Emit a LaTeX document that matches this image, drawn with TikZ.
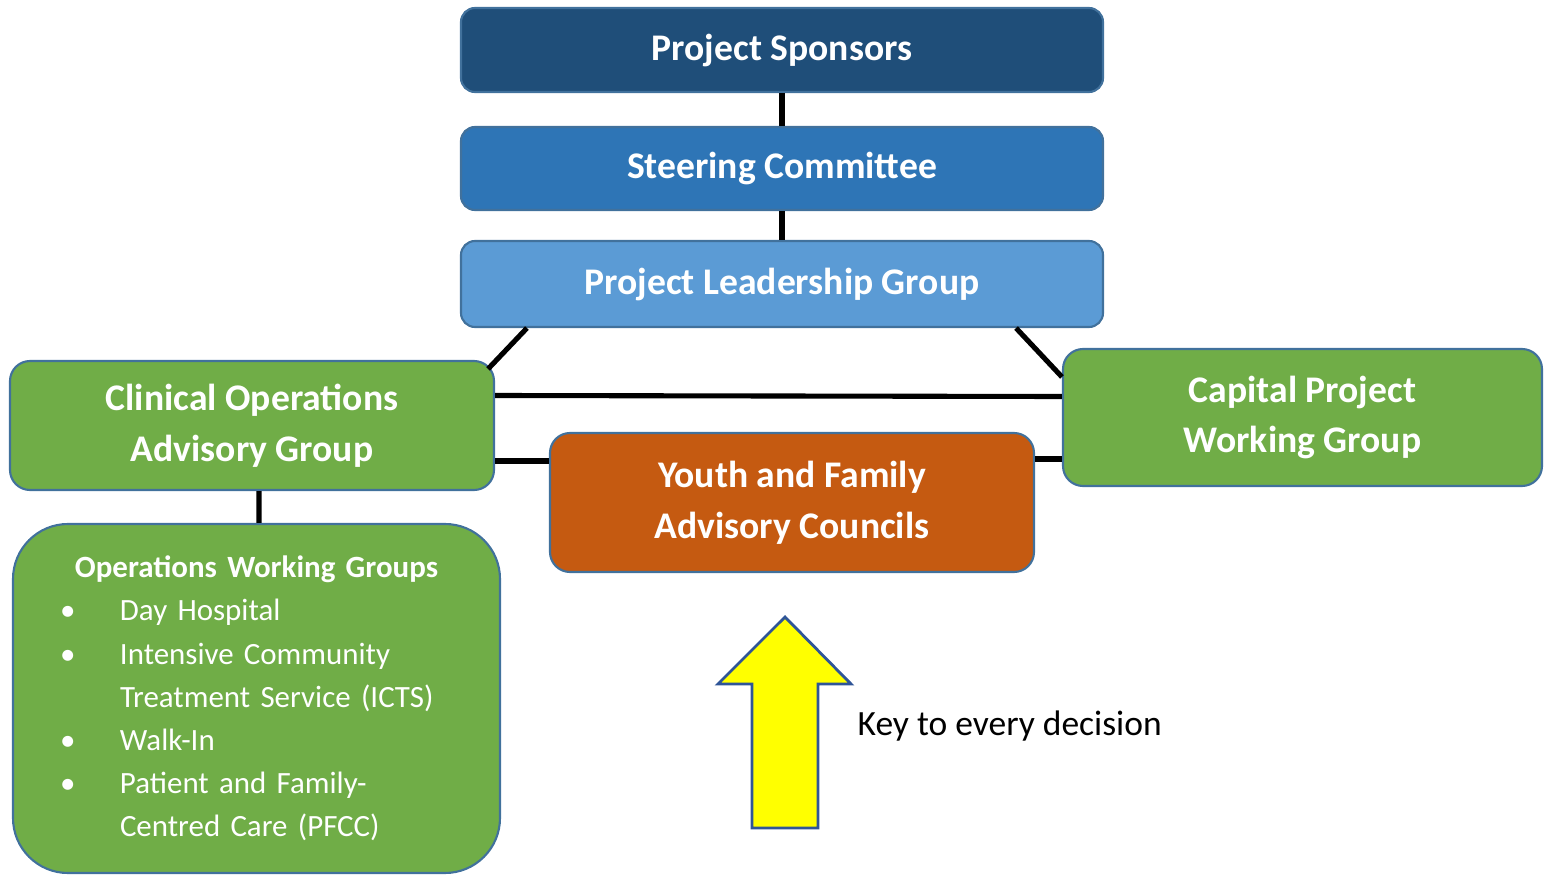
\documentclass[tikz,border=0pt]{standalone}
\usepackage{fontspec}
\setmainfont{Carlito}
\definecolor{sponsorblue}{HTML}{1F4E79}
\definecolor{steerblue}{HTML}{2E75B6}
\definecolor{leadblue}{HTML}{5B9BD5}
\definecolor{groupgreen}{HTML}{70AD47}
\definecolor{councilorange}{HTML}{C55A11}
\definecolor{boxline}{HTML}{41719C}
\definecolor{keyyellow}{HTML}{FFFF00}
\definecolor{keyline}{HTML}{2F5597}
\tikzset{
    box/.style = {draw=boxline, line width=0.6pt, rounded corners=0.14cm,
        text=white, align=center, inner sep=0pt,
        font=\fontsize{10.7}{14.5}\selectfont\bfseries},
    wide/.style = {box, minimum width=6.42cm},
    link/.style = {line width=1.45pt, black}
}

\begin{document}
\begin{tikzpicture}
    \useasboundingbox (0, 0) rectangle (15.44, -8.75);

    \node[wide, fill=sponsorblue, minimum height=0.84cm] (ps) at (7.82, -0.50) {Project Sponsors};
    \node[wide, fill=steerblue, minimum height=0.83cm] (sc) at (7.82, -1.685) {Steering Committee};
    \node[wide, fill=leadblue, minimum height=0.86cm] (plg) at (7.82, -2.84) {Project Leadership Group};

    \node[box, fill=groupgreen, rounded corners=0.2cm, minimum width=4.84cm, minimum height=1.29cm] (cog) at (2.52, -4.255) {Clinical Operations\\Advisory Group};
    \node[box, fill=groupgreen, rounded corners=0.2cm, minimum width=4.79cm, minimum height=1.37cm] (cpw) at (13.025, -4.175) {Capital Project\\Working Group};
    \node[box, fill=councilorange, rounded corners=0.2cm, minimum width=4.84cm, minimum height=1.39cm] (yfa) at (7.92, -5.025) {Youth and Family\\Advisory Councils};

    \node[box, fill=groupgreen, rounded corners=0.55cm, minimum width=4.87cm, minimum height=3.49cm,
        text width=3.93cm, align=left, font=\fontsize{8.8}{12.3}\selectfont] (owg) at (2.565, -6.985) {%
        \makebox[\linewidth]{\bfseries Operations Working Groups}\\
        \makebox[0.6cm][l]{\textbullet}Day Hospital\\
        \makebox[0.6cm][l]{\textbullet}Intensive Community\\
        \hspace*{0.6cm}Treatment Service (ICTS)\\
        \makebox[0.6cm][l]{\textbullet}Walk-In\\
        \makebox[0.6cm][l]{\textbullet}Patient and Family-\\
        \hspace*{0.6cm}Centred Care (PFCC)};

    \draw[link] (ps) edge (sc);
    \draw[link] (sc) edge (plg);
    \draw[link] ([xshift=0.67cm]plg.south west) edge ([xshift=-0.07cm, yshift=-0.09cm]cog.north east);
    \draw[link] ([xshift=-0.88cm]plg.south east) edge ([yshift=-0.29cm]cpw.north west);
    \draw[link] ([yshift=0.30cm]cog.east) edge ([yshift=0.21cm]cpw.west);
    \draw[link] ([yshift=-0.355cm]cog.east) edge ([yshift=0.415cm]yfa.west);
    \draw[link] ([yshift=0.435cm]yfa.east) edge ([yshift=-0.415cm]cpw.west);
    \draw[link] ([xshift=0.07cm]cog.south) edge ([xshift=0.025cm]owg.north);

    % key arrow
    \draw[fill=keyyellow, draw=keyline, line width=0.8pt]
        (7.85, -6.17) -- (8.51, -6.84) -- (8.18, -6.84) -- (8.18, -8.28)
        -- (7.52, -8.28) -- (7.52, -6.84) -- (7.18, -6.84) -- cycle;
    \node[anchor=west, inner sep=0pt, font=\fontsize{10.1}{12}\selectfont] (key) at (8.57, -7.26) {Key to every decision};
\end{tikzpicture}
\end{document}
